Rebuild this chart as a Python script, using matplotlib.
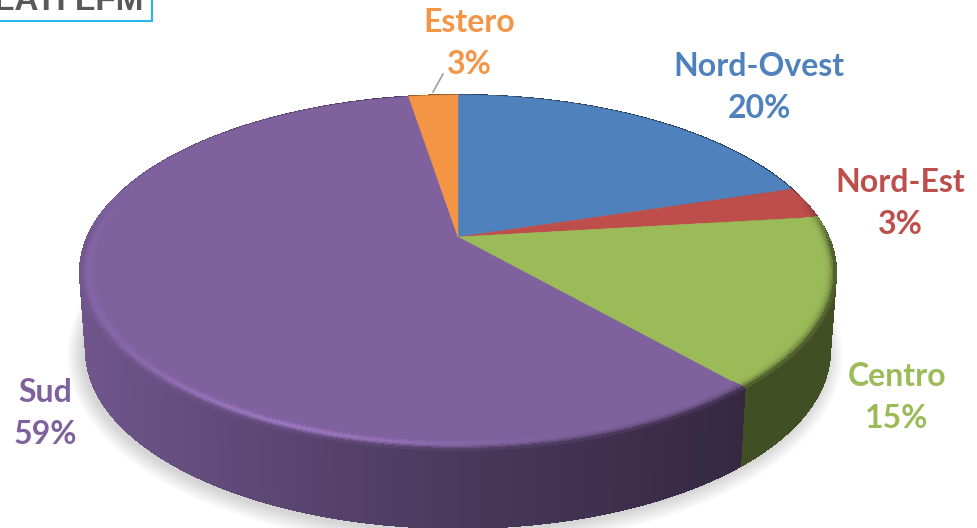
import numpy as np
import matplotlib
matplotlib.use("Agg")
import matplotlib.pyplot as plt
from matplotlib.collections import PolyCollection
from matplotlib.patches import Rectangle

areas = ["Nord-Ovest", "Nord-Est", "Centro", "Sud", "Estero"]
values = [20.2, 2.9, 15.49, 58.86, 2.55]
colors = ["#4f81bd", "#bd4e4c", "#9bbb59", "#7f619e", "#f49546"]

label_x = [759, 900, 897, 45, 469]
label_y = [87, 203, 397, 414, 43]

# pie geometry in pixels, the disc is drawn in perspective
CX, CY = 458, 237
A, B, K = 370.4, 170.4, 0.2
DEPTH = 78

plt.rcParams["font.family"] = ["Lato", "DejaVu Sans"]

fig = plt.figure(figsize=(9.78, 5.28), dpi=100)
ax = fig.add_axes([0, 0, 1, 1])
ax.set_xlim(0, 978)
ax.set_ylim(528, 0)
ax.axis("off")


def project(theta, r=1.0, z=0.0):
    # theta runs clockwise from the top of the disc
    u = r * np.sin(theta)
    v = r * np.cos(theta)
    d = 1 + K * v
    x = CX + (1 - 0.016 * z) * A * u / d
    y = CY - B * v / d + DEPTH * z
    return x, y


def wall_shade(x):
    return np.interp(x, [80, 250, 460, 740, 836], [0.88, 0.74, 0.58, 0.42, 0.42])


def rgb(c):
    return np.array(matplotlib.colors.to_rgb(c))


# soft shadow under the pie
t = np.linspace(0, 2 * np.pi, 300)
bx, by = project(t, 1.0, 1.0)
for grow in np.linspace(16, 1, 14):
    mx, my = bx.mean(), by.mean()
    sx = mx + (bx - mx) * (1 + grow / 372) - 3
    sy = my + (by - my) * (1 + grow / 178) + 3
    ax.fill(sx, sy, color="black", alpha=0.012, lw=0, zorder=1)

edges = np.cumsum([0] + values) / sum(values) * 2 * np.pi

wall_polys, wall_cols = [], []
bevel_polys, bevel_cols = [], []
radii = np.linspace(0.965, 1.0, 9)

for i, col in enumerate(colors):
    base = rgb(col)
    n = max(int(values[i] * 5), 6)
    th = np.linspace(edges[i], edges[i + 1], n + 1)

    # side wall
    for a0, a1 in zip(th[:-1], th[1:]):
        x0, y0 = project(a0)
        x1, y1 = project(a1)
        x2, y2 = project(a1, 1.0, 1.0)
        x3, y3 = project(a0, 1.0, 1.0)
        wall_polys.append([(x0, y0), (x1, y1), (x2, y2), (x3, y3)])
        wall_cols.append(base * wall_shade((x0 + x1) / 2))

    # flat top
    ax_x, ax_y = project(th)
    pts = [(CX, CY)] + list(zip(ax_x, ax_y))
    ax.fill(*zip(*pts), color=col, lw=0.4, zorder=4)

    # bevel round the front rim
    for a0, a1 in zip(th[:-1], th[1:]):
        am = (a0 + a1) / 2
        v = np.cos(am)
        w = np.clip((0.25 - v) / 0.3, 0, 1)
        if w == 0:
            continue
        xm, _ = project(am)
        edge = base * wall_shade(xm)
        glow = 0.28 * np.exp(-((xm - 290) / 170) ** 2)
        for r0, r1 in zip(radii[:-1], radii[1:]):
            s = ((r0 + r1) / 2 - radii[0]) / (radii[-1] - radii[0])
            c = base * (1 + glow * np.exp(-((s - 0.5) / 0.28) ** 2))
            c = c + (edge - c) * s ** 3
            c = base + (c - base) * w
            p = [project(a0, r0), project(a1, r0), project(a1, r1), project(a0, r1)]
            bevel_polys.append(p)
            bevel_cols.append(np.clip(c, 0, 1))

# no antialiasing on the small quads, otherwise the joins show up as stripes
ax.add_collection(PolyCollection(wall_polys, facecolors=wall_cols, edgecolors=wall_cols, linewidths=0.8, antialiaseds=False, zorder=3))
ax.add_collection(PolyCollection(bevel_polys, facecolors=bevel_cols, edgecolors=bevel_cols, linewidths=0.5, antialiaseds=False, zorder=5))

# labels
for name, val, col, x, y in zip(areas, values, colors, label_x, label_y):
    ax.text(x, y - 21, name, color=col, fontsize=23, fontweight="bold", ha="center", va="center", zorder=6)
    ax.text(x, y + 21, f"{round(val)}%", color=col, fontsize=23, fontweight="bold", ha="center", va="center", zorder=6)

# leader line for Estero
ax.plot([443, 433], [74, 92], color="#a6a6a6", lw=1.3, zorder=6)

# piece of the title box cut by the top of the picture
ax.add_patch(Rectangle((-5, -6), 157, 27, fc="white", ec="#29b5e8", lw=1.5, zorder=6))
ax.text(143, 10, "ORLATI LFM", color="#595959", fontsize=24, fontweight="bold", family="Liberation Sans", ha="right", va="baseline", zorder=7)

fig.savefig("out.png", dpi=100)
